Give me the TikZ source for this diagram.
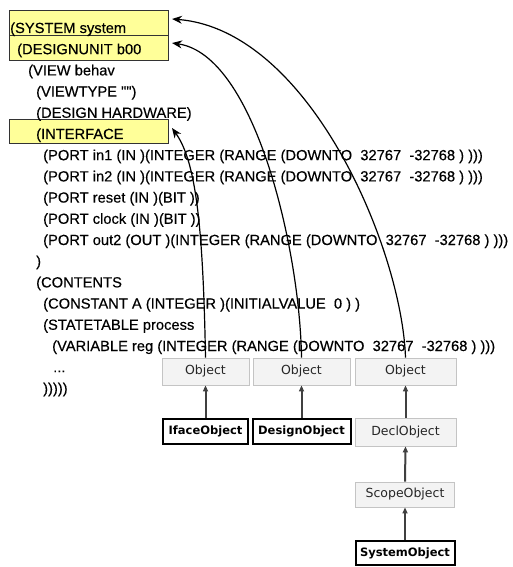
\documentclass[tikz,border=0pt]{standalone}
\usepackage{fontspec}
\setmainfont{Liberation Sans}
\newfontfamily\codefont{Liberation Sans}[FakeBold=0.35]
\newfontfamily\objfont{DejaVu Sans}
\usetikzlibrary{arrows.meta}
\definecolor{yellowfill}{HTML}{FFFF99}
\definecolor{objfill}{HTML}{F3F3F3}
\definecolor{objline}{HTML}{C4C4C4}
\begin{document}
\begin{tikzpicture}[x=1pt,y=-1pt,
  codeline/.style={anchor=base west, inner sep=0pt, font=\codefont\fontsize{14.7}{16}\selectfont},
  ybox/.style={draw=black!80, fill=yellowfill, line width=0.8pt, anchor=north west, inner sep=0pt, minimum width=159pt},
  objlight/.style={draw=objline, fill=objfill, line width=0.8pt, font=\objfont\fontsize{12.5}{14}\selectfont, text=black!85, inner sep=0pt},
  objbold/.style={draw=black, fill=white, line width=2pt, font=\objfont\bfseries\fontsize{11.5}{13}\selectfont, inner sep=0pt},
  inh/.style={draw=black!75, line width=2pt, -{Triangle[length=6pt,width=5pt]}},
  refarrow/.style={draw=black, line width=1.2pt, -{Stealth[length=10pt,width=8pt]}}
]
\useasboundingbox (0,0) rectangle (512,567);
% yellow highlight boxes
\node[ybox, minimum height=25pt] (sysbox) at (9,10) {};
\node[ybox, minimum height=25pt] (dubox) at (9,35) {};
\node[ybox, minimum height=24pt] (ifbox) at (9,119) {};
% code text
\node[codeline] (l0) at (10,33) {(SYSTEM system};
\node[codeline] (l1) at (17,54.2) {(DESIGNUNIT b00};
\node[codeline] (l2) at (28,75.4) {(VIEW behav};
\node[codeline] (l3) at (36,96.6) {(VIEWTYPE "")};
\node[codeline] (l4) at (36,117.8) {(DESIGN HARDWARE)};
\node[codeline] (l5) at (36,139) {(INTERFACE};
\node[codeline] (l6) at (43,160.2) {(PORT in1 (IN )(INTEGER (RANGE (DOWNTO~~32767~~-32768 ) )))};
\node[codeline] (l7) at (43,181.4) {(PORT in2 (IN )(INTEGER (RANGE (DOWNTO~~32767~~-32768 ) )))};
\node[codeline] (l8) at (43,202.6) {(PORT reset (IN )(BIT ))};
\node[codeline] (l9) at (43,223.8) {(PORT clock (IN )(BIT ))};
\node[codeline] (l10) at (43,245) {(PORT out2 (OUT )(INTEGER (RANGE (DOWNTO~~32767~~-32768 ) )))};
\node[codeline] (l11) at (36,266.2) {)};
\node[codeline] (l12) at (36,287.4) {(CONTENTS};
\node[codeline] (l13) at (43,308.6) {(CONSTANT A (INTEGER )(INITIALVALUE~~0 ) )};
\node[codeline] (l14) at (43,329.8) {(STATETABLE process};
\node[codeline] (l15) at (52,351) {(VARIABLE reg (INTEGER (RANGE (DOWNTO~~32767~~-32768 ) )))};
\node[codeline] (l16) at (53,372.2) {...};
\node[codeline] (l17) at (43,393.4) {)))))};
% class boxes
\node[objlight, minimum width=87pt, minimum height=27pt] (obj1) at (205.5,371.5) {Object};
\node[objlight, minimum width=97pt, minimum height=27pt] (obj2) at (301.5,371.5) {Object};
\node[objlight, minimum width=101pt, minimum height=27pt] (obj3) at (405.5,371.5) {Object};
\node[objbold, minimum width=85pt, minimum height=25pt] (iface) at (205.5,431.5) {IfaceObject};
\node[objbold, minimum width=98pt, minimum height=25pt] (design) at (301.5,431.5) {DesignObject};
\node[objlight, minimum width=101pt, minimum height=28pt] (decl) at (405.5,432) {DeclObject};
\node[objlight, minimum width=99pt, minimum height=25pt] (scope) at (405,494.5) {ScopeObject};
\node[objbold, minimum width=99pt, minimum height=24pt] (sysobj) at (405,553) {SystemObject};
% inheritance arrows
\draw[inh] (iface.north) -- (obj1.south);
\draw[inh] (design.north) -- (obj2.south);
\draw[inh] (decl.north) -- (obj3.south);
\draw[inh] (scope.north) -- (decl.south);
\draw[inh] (sysobj.north) -- (scope.south);
% reference arrows
\coordinate (t1) at (172,128);
\coordinate (t2) at (172,43);
\coordinate (t3) at (172,19);
\draw[refarrow] (obj1.north) .. controls (203,220) and (195,160) .. (t1);
\draw[refarrow] (obj2.north) .. controls (300,250) and (255,55) .. (t2);
\draw[refarrow] (obj3.north) .. controls (402,250) and (310,30) .. (t3);
\end{tikzpicture}
\end{document}
